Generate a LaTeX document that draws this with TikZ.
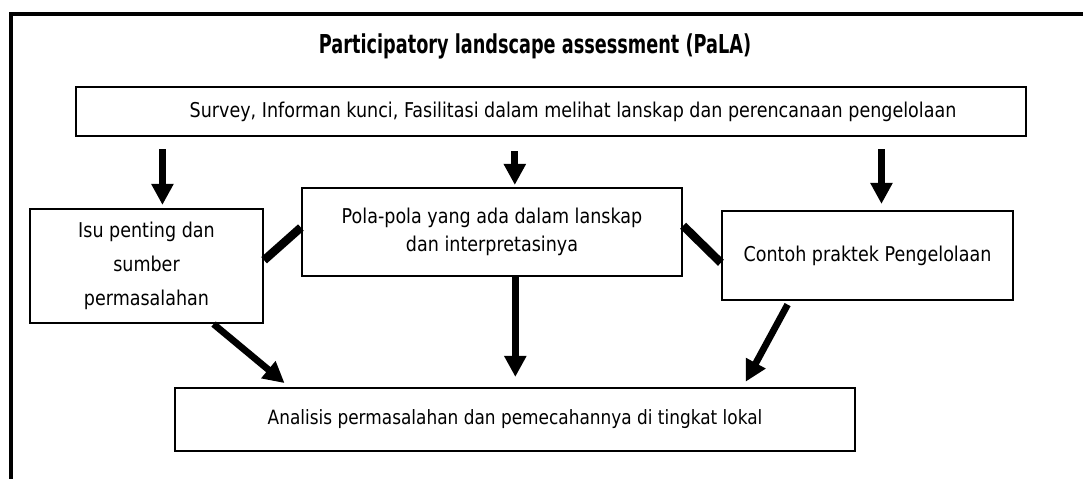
\documentclass[tikz,border=0pt]{standalone}
\usepackage{fontspec}
\setmainfont{DejaVu Sans}[FakeStretch=0.86]
\newfontfamily\headfont{DejaVu Sans}[FakeStretch=0.68]
\usetikzlibrary{arrows.meta,calc}

\begin{document}
\begin{tikzpicture}[x=0.025cm,y=-0.025cm,
    box/.style={draw,line width=1.5pt,align=center,inner sep=2pt,font=\fontsize{14.5}{24}\selectfont},
    flow/.style={line width=4.8pt,-{Triangle[width=15pt,length=15pt]}},
    link/.style={line width=6pt}]
  \useasboundingbox (0,0) rectangle (1083,479);
  % frame (only top and left sides show)
  \draw[line width=2.2pt] (11,479) -- (11,14) -- (1083,14);

  \draw (535,46) node (title) {\headfont\fontsize{18.5}{20}\selectfont\bfseries Participatory landscape assessment (PaLA)};
  \draw (551,111.5) node[box,minimum width=23.75cm,minimum height=1.225cm] (survey) {\hspace*{1.1cm}Survey, Informan kunci, Fasilitasi dalam melihat lanskap dan perencanaan pengelolaan};
  \draw (146.5,266) node[box,minimum width=5.825cm,minimum height=2.85cm] (isu) {Isu penting dan\\sumber\\permasalahan};
  \draw (492,232) node[box,minimum width=9.5cm,minimum height=2.2cm,font=\fontsize{14.5}{19.5}\selectfont] (pola) {Pola-pola yang ada dalam lanskap\\dan interpretasinya};
  \draw (867.5,255.5) node[box,minimum width=7.275cm,minimum height=2.225cm] (contoh) {Contoh praktek Pengelolaan};
  \draw (515,419.5) node[box,minimum width=17cm,minimum height=1.575cm,font=\fontsize{14}{16}\selectfont] (analisis) {Analisis permasalahan dan pemecahannya di tingkat lokal};

  % points where the arrows leave the boxes
  \coordinate (a1) at ($(survey.south west)!0.092!(survey.south east)$);
  \coordinate (a2) at ($(survey.south west)!0.462!(survey.south east)$);
  \coordinate (a3) at ($(survey.south west)!0.847!(survey.south east)$);
  \coordinate (b1) at ($(isu.south west)!0.785!(isu.south east)$);
  \coordinate (b2) at ($(pola.south west)!0.561!(pola.south east)$);
  \coordinate (b3) at ($(contoh.south west)!0.234!(contoh.south east)$);

  \path[flow,shorten <=0.3cm,shorten >=0.075cm] (a1) edge (a1 |- isu.north);
  \path[flow,shorten <=0.35cm,shorten >=0.05cm] (a2) edge (a2 |- pola.north);
  \path[flow,shorten <=0.3cm,shorten >=0.15cm] (a3) edge (a3 |- contoh.north);

  \path[link] ($(isu.north east)!0.45!(isu.south east)$) edge ($(pola.north west)!0.45!(pola.south west)$);
  \path[link] ($(pola.north east)!0.43!(pola.south east)$) edge ($(contoh.north west)!0.58!(contoh.south west)$);

  \path[flow,shorten >=0.15cm] (b1) edge ($(analisis.north west)!0.169!(analisis.north east)$);
  \path[flow,shorten >=0.25cm] (b2) edge (b2 |- analisis.north);
  \path[flow,shorten <=0.1cm,shorten >=0.15cm] (b3) edge ($(analisis.north west)!0.834!(analisis.north east)$);
\end{tikzpicture}
\end{document}
